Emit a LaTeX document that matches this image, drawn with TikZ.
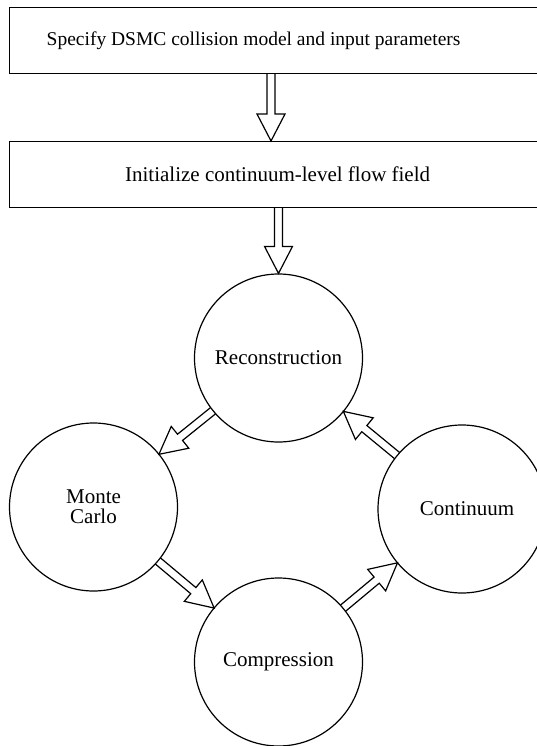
\documentclass[tikz,border=0pt]{standalone}
\usepackage{fontspec}
\setmainfont{Liberation Serif}
\usetikzlibrary{calc}
\newcommand{\blockarrow}[2]{%
  \draw[blockline] let \p1=(#1), \p2=(#2),
      \n1={atan2(\y2-\y1,\x2-\x1)}, \n2={veclen(\x2-\x1,\y2-\y1)} in
    ($(\p1)+({\n1-90}:4)$) -- ($(\p1)+({\n1-90}:4)+({\n1}:{\n2-27})$)
    -- ($(\p1)+({\n1-90}:14)+({\n1}:{\n2-27})$) -- (\p2)
    -- ($(\p1)+({\n1+90}:14)+({\n1}:{\n2-27})$)
    -- ($(\p1)+({\n1+90}:4)+({\n1}:{\n2-27})$) -- ($(\p1)+({\n1+90}:4)$);}
\begin{document}
\begin{tikzpicture}[x=1pt,y=1pt,line width=1.2pt,
  flowbox/.style={draw, rectangle, minimum width=536pt, minimum height=66pt,
    inner sep=0pt, anchor=north west, font=\fontsize{21}{25}\selectfont},
  stage/.style={draw, circle, minimum size=168pt, inner sep=0pt, align=center,
    font=\fontsize{21}{20}\selectfont},
  blockline/.style={line width=1.2pt, line join=miter}]
\useasboundingbox (0,0) rectangle (537,-746);
\clip (0,0) rectangle (537,-746);
\node[flowbox, font=\fontsize{19.5}{23}\selectfont] (spec) at (9,-7)
  {Specify DSMC collision model and input parameters\hspace*{48pt}};
\node[flowbox] (init) at (9,-141) {Initialize continuum-level flow field};
\node[stage] (rec) at (278.5,-358) {Reconstruction};
\node[stage] (mc) at (93.5,-507) {Monte\\Carlo};
\node[stage] (cont) at (462,-509) {\hspace*{10pt}Continuum};
\node[stage] (comp) at (278.5,-662) {Compression};
\coordinate (ax) at (271,0);
\blockarrow{spec.south -| ax}{init.north -| ax}
\blockarrow{init.south -| rec.north}{rec.north}
\blockarrow{$(rec)!84pt!(mc)$}{$(mc)!84pt!(rec)$}
\blockarrow{$(mc)!84pt!(comp)$}{$(comp)!84pt!(mc)$}
\blockarrow{$(comp)!84pt!(cont)$}{$(cont)!84pt!(comp)$}
\blockarrow{$(cont)!84pt!(rec)$}{$(rec)!84pt!(cont)$}
\end{tikzpicture}
\end{document}
